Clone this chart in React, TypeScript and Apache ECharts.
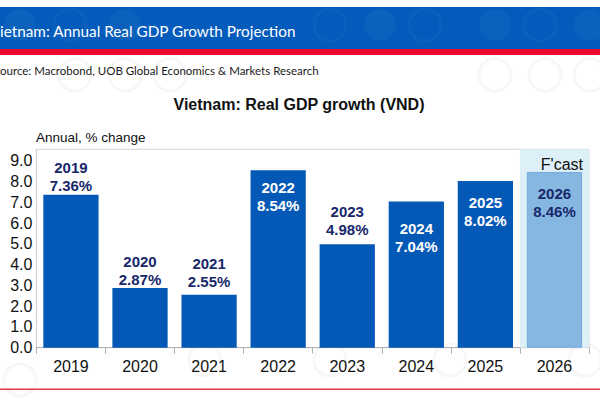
import React, { useEffect, useRef } from "react";
import * as echarts from "echarts";

const categories = ["2019", "2020", "2021", "2022", "2023", "2024", "2025", "2026"];
const growthValues = [7.36, 2.87, 2.55, 8.54, 4.98, 7.04, 8.02, 8.46];
const forecastIndex = 7;
const yTicks = [0, 1, 2, 3, 4, 5, 6, 7, 8, 9];
// label placement per bar: [position, distance, color]
const labelPlacement: [string, number, string][] = [
  ["top", 0, "#17286b"],
  ["top", 0, "#17286b"],
  ["top", 4, "#17286b"],
  ["insideTop", 8, "#ffffff"],
  ["top", 6, "#17286b"],
  ["insideTop", 18, "#ffffff"],
  ["insideTop", 12, "#ffffff"],
  ["insideTop", 13, "#17286b"],
];

const AXIS_MAX = 9.55;
const FONT = "'Liberation Sans', Arial, sans-serif";
const HEADER_FONT = "Lato, 'Open Sans', sans-serif";

export default function App() {
  const ref = useRef<HTMLDivElement>(null);

  useEffect(() => {
    if (!ref.current) return;
    const chart = echarts.init(ref.current, undefined, { renderer: "svg" });

    const barData = growthValues.map((v, i) => {
      const [pos, dist, color] = labelPlacement[i];
      const isF = i === forecastIndex;
      return {
        value: v,
        itemStyle: isF
          ? { color: "#86b7e0", borderColor: "#73a9da", borderWidth: 1 }
          : { color: "#0559b6" },
        label: {
          show: true,
          position: pos,
          distance: dist,
          color,
        },
      };
    });

    const bgData = categories.map((_, i) => (i === forecastIndex ? AXIS_MAX : null));

    const headerCircles = [20, 70, 125, 330, 380, 425, 495, 540, 590].map((cx, i) => ({
      type: "circle",
      shape: { cx, cy: 25, r: 16 },
      style: i % 2 === 0
        ? { fill: "rgba(255,255,255,0.04)" }
        : { fill: "none", stroke: "rgba(255,255,255,0.035)", lineWidth: 3 },
      silent: true,
      z: 1,
    }));

    const bodyRings = [
      [75, 75], [125, 75], [170, 75], [495, 75], [545, 75], [590, 75],
      [205, 360], [330, 360], [450, 360], [585, 360], [20, 380],
    ].map(([cx, cy]) => ({
      type: "circle",
      shape: { cx, cy, r: 16 },
      style: { fill: "none", stroke: "rgba(0,0,0,0.03)", lineWidth: 3 },
      silent: true,
      z: 0,
    }));

    chart.setOption({
      animation: false,
      backgroundColor: "#ffffff",
      textStyle: { fontFamily: FONT },
      grid: {
        left: 36.4,
        right: 11,
        top: 149.3,
        bottom: 52.3,
        show: true,
        borderColor: "#d4d4d4",
        borderWidth: 1,
        backgroundColor: "transparent",
      },
      xAxis: [
        {
          type: "category",
          data: categories,
          axisLine: { show: true, lineStyle: { color: "#b0b0b0", width: 1 } },
          axisTick: { show: true, length: 6, lineStyle: { color: "#b0b0b0" } },
          axisLabel: { color: "#111", fontSize: 16, margin: 11, fontFamily: FONT },
        },
        {
          type: "category",
          data: categories,
          show: false,
        },
      ],
      yAxis: {
        type: "value",
        min: 0,
        max: AXIS_MAX,
        interval: 1,
        axisLine: { show: true, lineStyle: { color: "#cfcfcf" } },
        axisTick: { show: false },
        splitLine: { show: false },
        axisLabel: {
          color: "#111",
          fontSize: 16,
          margin: 4,
          fontFamily: FONT,
          showMaxLabel: false,
          formatter: (v: number) => (yTicks.includes(v) ? v.toFixed(1) : ""),
        },
      },
      series: [
        {
          type: "bar",
          xAxisIndex: 1,
          data: bgData,
          barWidth: "100%",
          itemStyle: { color: "#ddf0f8" },
          silent: true,
          z: 1,
        },
        {
          type: "bar",
          xAxisIndex: 0,
          data: barData,
          barCategoryGap: "20%",
          z: 3,
          label: {
            show: true,
            fontFamily: FONT,
            fontSize: 15,
            fontWeight: "bold",
            lineHeight: 18,
            align: "center",
            formatter: (p: any) => `${categories[p.dataIndex]}\n${p.value.toFixed(2)}%`,
          },
        },
      ],
      graphic: [
        {
          type: "rect",
          shape: { x: 0, y: 7, width: 600, height: 42 },
          style: { fill: "#035bbb" },
          silent: true,
          z: 0,
        },
        ...headerCircles,
        {
          type: "rect",
          shape: { x: 0, y: 49, width: 600, height: 6 },
          style: { fill: "#ee0a2e" },
          silent: true,
          z: 2,
        },
        {
          type: "text",
          x: 0,
          y: 31,
          style: {
            text: "ietnam: Annual Real GDP Growth Projection",
            fill: "#ffffff",
            font: `15.3px ${HEADER_FONT}`,
            textVerticalAlign: "middle",
          },
          z: 3,
        },
        ...bodyRings,
        {
          type: "text",
          x: 0,
          y: 70,
          style: {
            text: "ource: Macrobond, UOB Global Economics & Markets Research",
            fill: "#1a1a1a",
            font: `11.5px ${HEADER_FONT}`,
            textVerticalAlign: "middle",
          },
          z: 3,
        },
        {
          type: "text",
          x: 299,
          y: 104,
          style: {
            text: "Vietnam: Real GDP growth (VND)",
            fill: "#111",
            font: `bold 16px ${FONT}`,
            textAlign: "center",
            textVerticalAlign: "middle",
          },
          z: 3,
        },
        {
          type: "text",
          x: 36,
          y: 137,
          style: {
            text: "Annual, % change",
            fill: "#111",
            font: `13.5px ${FONT}`,
            textVerticalAlign: "middle",
          },
          z: 3,
        },
        {
          type: "text",
          x: 583,
          y: 164,
          style: {
            text: "F'cast",
            fill: "#111",
            font: `16px ${FONT}`,
            textAlign: "right",
            textVerticalAlign: "middle",
          },
          z: 5,
        },
        {
          type: "rect",
          shape: { x: 0, y: 388.5, width: 600, height: 1.5 },
          style: { fill: "#e8344e" },
          silent: true,
          z: 3,
        },
      ],
    });

    return () => chart.dispose();
  }, []);

  return (
    <div
      ref={ref}
      style={{ position: "fixed", left: 0, top: 0, width: 600, height: 400 }}
    />
  );
}
